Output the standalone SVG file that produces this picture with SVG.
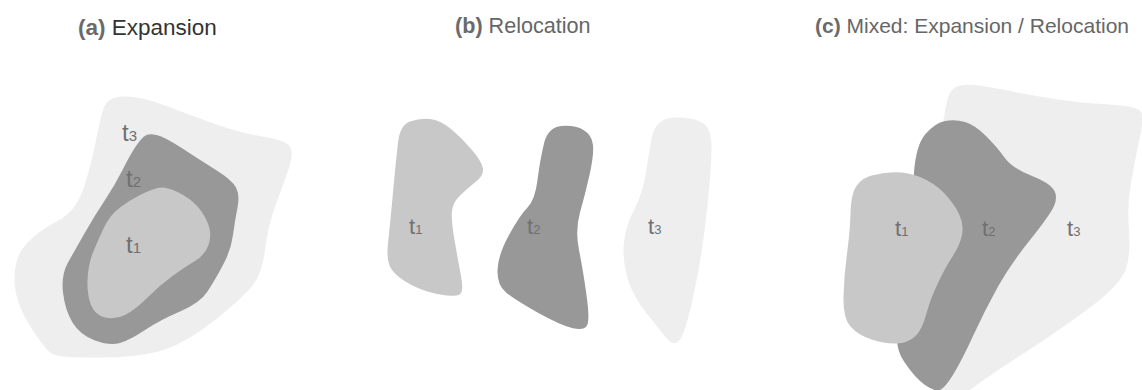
<svg xmlns="http://www.w3.org/2000/svg" width="1142" height="390" viewBox="0 0 1142 390">
<style>
.title{font-family:"Liberation Sans",Arial,sans-serif;font-size:21px;fill:#666}
.b{font-weight:bold;fill:#6a6a6a}
.lab{font-family:"Liberation Sans",Arial,sans-serif;font-size:22px;fill:#707070}
.sub{font-size:13px}
.la{font-size:24px}
.la .sub{font-size:15px}
.r1{fill:#c8c8c8}
.r2{fill:#989898}
.r3{fill:#eeeeee}
</style>
<rect width="1142" height="390" fill="#ffffff"/>
<g id="panel-a">
<text class="title" x="78" y="35" style="font-size:22.5px"><tspan class="b">(a)</tspan> <tspan fill="#333">Expansion</tspan></text>
<g id="a-t3"><path class="r3" d="M103.5,108.5 Q107,97 123.5,96.5 Q140,96 165,105.5 Q190,115 215,124 Q240,133 262.5,136.5 Q285,140 289.5,146 Q294,152 289.5,166 Q285,180 276.5,202.5 Q268,225 265,250 Q262,275 251,287.5 Q240,300 215,320 Q190,340 167.5,348.5 Q145,357 102.5,357.5 Q60,358 52.5,354 Q45,350 29.5,325 Q14,300 14.5,277.5 Q15,255 27.5,242.5 Q40,230 57.5,221 Q75,212 82.5,191 Q90,170 95,145 Q100,120 103.5,108.5 Z"/></g>
<g id="a-t2"><path class="r2" d="M144,136.5 Q148,133 156.5,135 Q165,137 182.5,148.5 Q200,160 216,170 Q232,180 236,187.5 Q240,195 237.5,207.5 Q235,220 233,235 Q231,250 223,265 Q215,280 207.5,291.5 Q200,303 180,311.5 Q160,320 145,330 Q130,340 120,343 Q110,346 95,340.5 Q80,335 72.5,322.5 Q65,310 63,292.5 Q61,275 68,262.5 Q75,250 85,232.5 Q95,215 105,200 Q115,185 122.5,170 Q130,155 135,147.5 Q140,140 144,136.5 Z"/></g>
<g id="a-t1"><path class="r1" d="M157.5,188 Q165,186 177.5,192 Q190,198 197.5,206.5 Q205,215 208.5,225 Q212,235 208.5,245 Q205,255 195,261 Q185,267 172.5,276 Q160,285 147.5,297.5 Q135,310 125,315 Q115,320 105,317.5 Q95,315 91,305 Q87,295 87.5,280 Q88,265 93,252.5 Q98,240 104,227.5 Q110,215 120,207.5 Q130,200 140,195 Q150,190 157.5,188 Z"/></g>
<text class="lab la" x="122" y="141">t<tspan class="sub">3</tspan></text>
<text class="lab la" x="126" y="187">t<tspan class="sub">2</tspan></text>
<text class="lab la" x="126" y="253">t<tspan class="sub">1</tspan></text>
</g>
<g id="panel-b">
<text class="title" x="455" y="33" style="font-size:21.6px"><tspan class="b">(b)</tspan> Relocation</text>
<g id="b-t1"><path class="r1" d="M398,142.5 Q400,125 410,121.5 Q420,118 430,119 Q440,120 451,129 Q462,138 472,150 Q482,162 483,168.5 Q484,175 476,181.5 Q468,188 460.5,195 Q453,202 452,211 Q451,220 454.5,240 Q458,260 461,276 Q464,292 459.5,294.5 Q455,297 440,294.5 Q425,292 411.5,285 Q398,278 392,270 Q386,262 388,243.5 Q390,225 393,192.5 Q396,160 398,142.5 Z"/></g>
<g id="b-t2"><path class="r2" d="M544,143.5 Q548,127 561.5,126 Q575,125 583.5,130 Q592,135 593,145 Q594,155 589.5,175 Q585,195 580,212.5 Q575,230 579,250 Q583,270 586.5,295 Q590,320 587,325.5 Q584,331 572,328 Q560,325 537.5,312.5 Q515,300 506,292.5 Q497,285 497.5,270 Q498,255 509,235 Q520,215 527.5,207.5 Q535,200 537.5,180 Q540,160 544,143.5 Z"/></g>
<g id="b-t3"><path class="r3" d="M651.5,139 Q655,118 675,117.5 Q695,117 703.5,123.5 Q712,130 711.5,150 Q711,170 707.5,205 Q704,240 698.5,270 Q693,300 687.5,320 Q682,340 677,342.5 Q672,345 666,337.5 Q660,330 646,312.5 Q632,295 627,276.5 Q622,258 624,241.5 Q626,225 634,210 Q642,195 645,177.5 Q648,160 651.5,139 Z"/></g>
<text class="lab" x="409" y="234">t<tspan class="sub">1</tspan></text>
<text class="lab" x="527" y="234">t<tspan class="sub">2</tspan></text>
<text class="lab" x="648" y="234">t<tspan class="sub">3</tspan></text>
</g>
<g id="panel-c">
<text class="title" x="815" y="33"><tspan class="b">(c)</tspan> Mixed: Expansion / Relocation</text>
<g id="c-t3"><path class="r3" d="M947.5,99 Q950,88 960,85.5 Q970,83 1000,89 Q1030,95 1055,99 Q1080,103 1109,104.5 Q1138,106 1141,112 Q1144,118 1139.5,139 Q1135,160 1131,182.5 Q1127,205 1129,230 Q1131,255 1125.5,270 Q1120,285 1090,307.5 Q1060,330 1025,352.5 Q990,375 975,386.5 Q960,398 945,398 Q930,398 930,299 Q930,200 937.5,155 Q945,110 947.5,99 Z"/></g>
<g id="c-t2"><path class="r2" d="M925.5,134 Q935,123 945,121 Q955,119 965,122 Q975,125 986,136 Q997,147 1004.5,157.5 Q1012,168 1031,175.5 Q1050,183 1054,190 Q1058,197 1054,206 Q1050,215 1030,240 Q1010,265 997.5,287.5 Q985,310 973.5,335 Q962,360 953.5,374 Q945,388 940,390 Q935,392 925,385 Q915,378 904,361.5 Q893,345 899,322.5 Q905,300 908.5,250 Q912,200 914,172.5 Q916,145 925.5,134 Z"/></g>
<g id="c-t1"><path class="r1" d="M867.5,177 Q875,174 890,172.5 Q905,171 920,177 Q935,183 945,194 Q955,205 959.5,215 Q964,225 962,235 Q960,245 952.5,256.5 Q945,268 937.5,284 Q930,300 926,315 Q922,330 915,336.5 Q908,343 896.5,343.5 Q885,344 871.5,339.5 Q858,335 850.5,326.5 Q843,318 843.5,296.5 Q844,275 847,253.5 Q850,232 850.5,213.5 Q851,195 855.5,187.5 Q860,180 867.5,177 Z"/></g>
<text class="lab" x="895" y="236">t<tspan class="sub">1</tspan></text>
<text class="lab" x="982" y="236">t<tspan class="sub">2</tspan></text>
<text class="lab" x="1067" y="236">t<tspan class="sub">3</tspan></text>
</g>
<g id="connectors"/>
</svg>
